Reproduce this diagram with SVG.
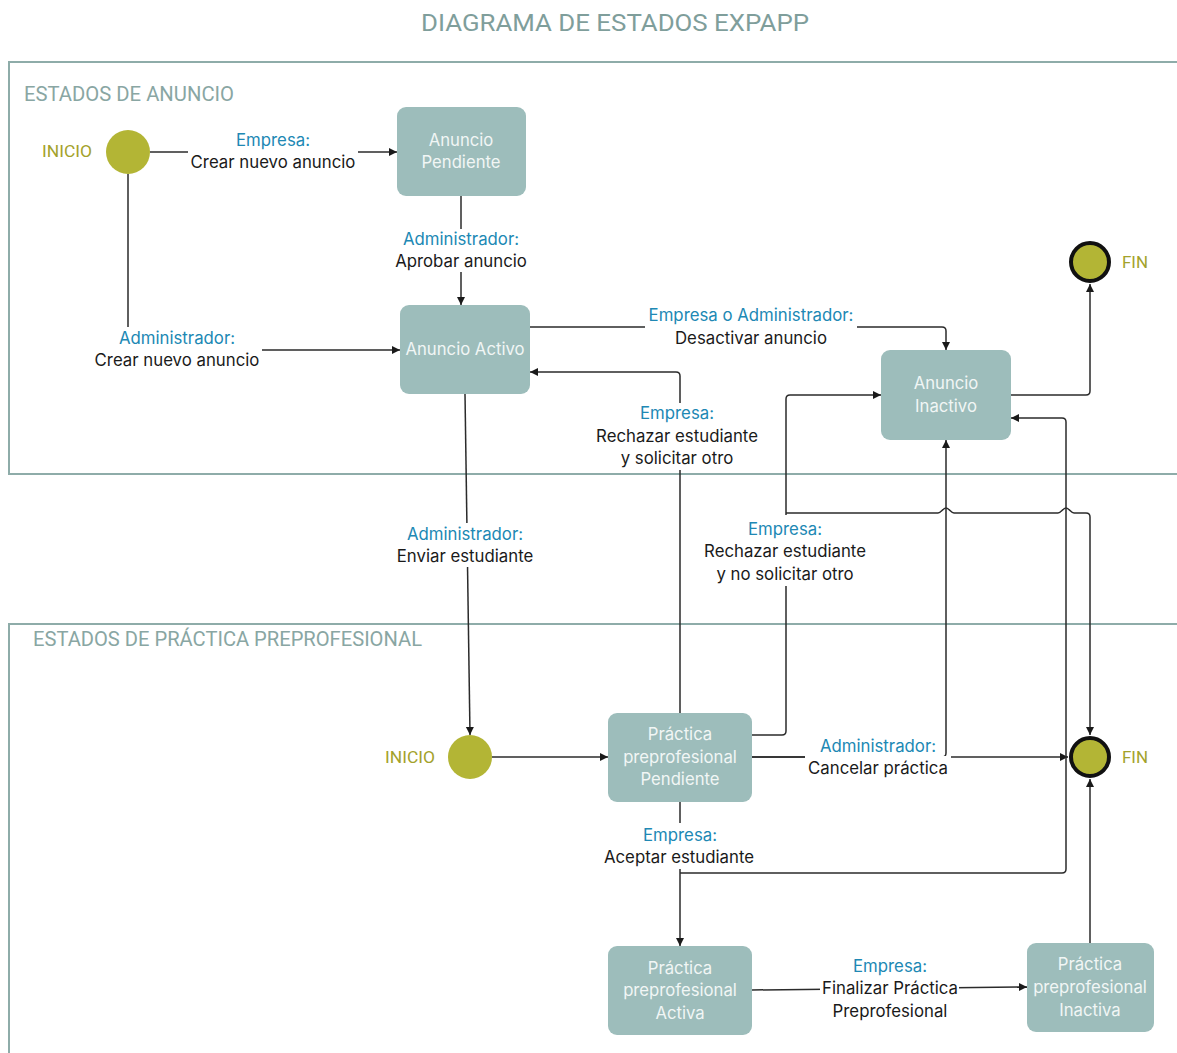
<svg xmlns="http://www.w3.org/2000/svg" width="1177" height="1053" viewBox="0 0 1177 1053">
  <defs>
    <marker id="arrow" markerUnits="userSpaceOnUse" markerWidth="9" markerHeight="9" refX="8" refY="4" orient="auto">
      <path d="M0,0 L8,4 L0,8 z" fill="#1a1a1a"/>
    </marker>
    <style>
      .frame { fill: none; stroke: #8eaca9; stroke-width: 2; }
      .title { font-family: Roboto, "Liberation Sans", sans-serif; fill: #7f9e9b; }
      .section { font-family: Roboto, "Liberation Sans", sans-serif; font-size: 21px; fill: #89a6a3; }
      .term { font-family: Roboto, "Liberation Sans", sans-serif; font-size: 17px; fill: #a3a22b; }
      .start { fill: #b3b535; }
      .end { fill: #b3b535; stroke: #111111; stroke-width: 4; }
      .state rect { fill: #9dbdbb; }
      .state text { font-family: Inter, "Liberation Sans", sans-serif; font-size: 16.7px; fill: #f1f6f5; text-anchor: middle; }
      .conn { fill: none; stroke: #2b2b2b; stroke-width: 1.5; }
      .arr { marker-end: url(#arrow); }
      .lbl rect { fill: #ffffff; }
      .lbl text { font-family: Inter, "Liberation Sans", sans-serif; font-size: 16.8px; text-anchor: middle; fill: #1a1a1a; }
      .lbl .actor { fill: #2088b4; }
    </style>
  </defs>

  <rect width="1177" height="1053" fill="#ffffff"/>

  <!-- title and swimlane frames -->
  <text class="title" x="615" y="31" font-size="24" text-anchor="middle" textLength="388" lengthAdjust="spacingAndGlyphs">DIAGRAMA DE ESTADOS EXPAPP</text>
  <rect class="frame" x="9" y="62" width="1180" height="412"/>
  <rect class="frame" x="9" y="624" width="1180" height="450"/>
  <text class="section" x="24" y="101" textLength="210" lengthAdjust="spacingAndGlyphs">ESTADOS DE ANUNCIO</text>
  <text class="section" x="33" y="646" textLength="389" lengthAdjust="spacingAndGlyphs">ESTADOS DE PRÁCTICA PREPROFESIONAL</text>

  <!-- transitions -->
  <g id="connectors">
    <path class="conn arr" d="M150,152 H397"/>
    <path class="conn arr" d="M128,174 V350 H400"/>
    <path class="conn arr" d="M461,196 V305"/>
    <path class="conn arr" d="M530,327 H942 Q946,327 946,331 V350"/>
    <path class="conn arr" d="M680,713 V376 Q680,372 676,372 H530"/>
    <path class="conn arr" d="M465,394 L470,735"/>
    <path class="conn arr" d="M752,735 H782 Q786,735 786,731 V399 Q786,395 790,395 H881"/>
    <path class="conn arr" d="M786,513 H938 c3,0 5,-5 8,-5 c3,0 5,5 8,5 H1058 c3,0 5,-5 8,-5 c3,0 5,5 8,5 H1086 Q1090,513 1090,517 V735"/>
    <path class="conn arr" d="M752,757 H1068"/>
    <path class="conn arr" d="M752,757 H942 Q946,757 946,753 V440"/>
    <path class="conn arr" d="M680,802 V946"/>
    <path class="conn arr" d="M680,873 H1062 Q1066,873 1066,869 V422 Q1066,418 1062,418 H1011"/>
    <path class="conn arr" d="M1011,395 H1086 Q1090,395 1090,391 V284"/>
    <path class="conn arr" d="M752,990 L1027,987"/>
    <path class="conn arr" d="M1090,943 V779"/>
    <path class="conn arr" d="M492,757 H608"/>
  </g>

  <!-- transition labels -->
  <g id="labels">
    <g class="lbl">
      <rect x="188" y="130" width="170" height="42"/>
      <text class="actor" x="273" y="146">Empresa:</text>
      <text x="273" y="168">Crear nuevo anuncio</text>
    </g>
    <g class="lbl">
      <rect x="94" y="327" width="168" height="44"/>
      <text class="actor" x="177" y="344">Administrador:</text>
      <text x="177" y="366">Crear nuevo anuncio</text>
    </g>
    <g class="lbl">
      <rect x="393" y="229" width="136" height="43"/>
      <text class="actor" x="461" y="245">Administrador:</text>
      <text x="461" y="267">Aprobar anuncio</text>
    </g>
    <g class="lbl">
      <rect x="645" y="305" width="212" height="43"/>
      <text class="actor" x="751" y="321">Empresa o Administrador:</text>
      <text x="751" y="344">Desactivar anuncio</text>
    </g>
    <g class="lbl">
      <rect x="593" y="403" width="169" height="67"/>
      <text class="actor" x="677" y="419">Empresa:</text>
      <text x="677" y="442">Rechazar estudiante</text>
      <text x="677" y="464">y solicitar otro</text>
    </g>
    <g class="lbl">
      <rect x="393" y="523" width="144" height="44"/>
      <text class="actor" x="465" y="540">Administrador:</text>
      <text x="465" y="562">Enviar estudiante</text>
    </g>
    <g class="lbl">
      <rect x="702" y="515" width="167" height="71"/>
      <text class="actor" x="785" y="535">Empresa:</text>
      <text x="785" y="557">Rechazar estudiante</text>
      <text x="785" y="580">y no solicitar otro</text>
    </g>
    <g class="lbl">
      <rect x="818" y="737" width="122" height="19"/>
      <rect x="805" y="756" width="146" height="23"/>
      <text class="actor" x="878" y="752">Administrador:</text>
      <text x="878" y="774">Cancelar práctica</text>
    </g>
    <g class="lbl">
      <rect x="600" y="823" width="159" height="46"/>
      <text class="actor" x="680" y="841">Empresa:</text>
      <text x="679" y="863">Aceptar estudiante</text>
    </g>
    <g class="lbl">
      <rect x="820" y="955" width="139" height="67"/>
      <text class="actor" x="890" y="972">Empresa:</text>
      <text x="890" y="994">Finalizar Práctica</text>
      <text x="890" y="1017">Preprofesional</text>
    </g>
  </g>

  <!-- pseudo-states -->
  <g id="inicio-anuncio">
    <circle class="start" cx="128" cy="152" r="22"/>
    <text class="term" x="42" y="157" textLength="50" lengthAdjust="spacingAndGlyphs">INICIO</text>
  </g>
  <g id="fin-anuncio">
    <circle class="end" cx="1090" cy="262" r="19"/>
    <text class="term" x="1122" y="268" textLength="26" lengthAdjust="spacingAndGlyphs">FIN</text>
  </g>
  <g id="inicio-practica">
    <circle class="start" cx="470" cy="757" r="22"/>
    <text class="term" x="385" y="763" textLength="50" lengthAdjust="spacingAndGlyphs">INICIO</text>
  </g>
  <g id="fin-practica">
    <circle class="end" cx="1090" cy="757" r="19"/>
    <text class="term" x="1122" y="763" textLength="26" lengthAdjust="spacingAndGlyphs">FIN</text>
  </g>

  <!-- states -->
  <g id="anuncio-pendiente" class="state">
    <rect x="397" y="107" width="129" height="89" rx="9"/>
    <text x="461" y="146">Anuncio</text>
    <text x="461" y="168">Pendiente</text>
  </g>
  <g id="anuncio-activo" class="state">
    <rect x="400" y="305" width="130" height="89" rx="9"/>
    <text x="465" y="355">Anuncio Activo</text>
  </g>
  <g id="anuncio-inactivo" class="state">
    <rect x="881" y="350" width="130" height="90" rx="9"/>
    <text x="946" y="389">Anuncio</text>
    <text x="946" y="412">Inactivo</text>
  </g>
  <g id="practica-pendiente" class="state">
    <rect x="608" y="713" width="144" height="89" rx="9"/>
    <text x="680" y="740">Práctica</text>
    <text x="680" y="763">preprofesional</text>
    <text x="680" y="785">Pendiente</text>
  </g>
  <g id="practica-activa" class="state">
    <rect x="608" y="946" width="144" height="89" rx="9"/>
    <text x="680" y="974">Práctica</text>
    <text x="680" y="996">preprofesional</text>
    <text x="680" y="1019">Activa</text>
  </g>
  <g id="practica-inactiva" class="state">
    <rect x="1027" y="943" width="127" height="89" rx="9"/>
    <text x="1090" y="970">Práctica</text>
    <text x="1090" y="993">preprofesional</text>
    <text x="1090" y="1016">Inactiva</text>
  </g>
</svg>
